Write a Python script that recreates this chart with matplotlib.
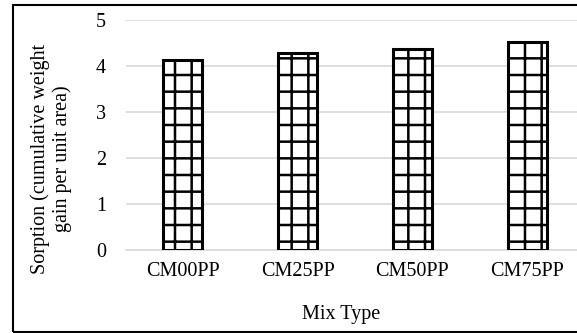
import numpy as np
import matplotlib.pyplot as plt
import matplotlib.patheffects as pe
import matplotlib.hatch as mhatch
from matplotlib.patches import Rectangle

plt.rcParams['font.family'] = ['Liberation Serif', 'DejaVu Serif']
plt.rcParams['hatch.linewidth'] = 1.8

# hatch grid spacing like Excel's large grid pattern
_orig_get_path = mhatch.get_path
mhatch.get_path = lambda pattern, density=6: _orig_get_path(pattern, 6)

# data
mixes = ["CM00PP", "CM25PP", "CM50PP", "CM75PP"]
sorption = [4.12, 4.29, 4.38, 4.52]

W, H = 577, 333
fig = plt.figure(figsize=(W / 100, H / 100), dpi=100)

# outer chart border
fig.patches.append(Rectangle((13 / W, 1 / H), 1.2, 1 - 6 / H, transform=fig.transFigure,
                             fill=False, edgecolor="black", linewidth=1.5))

ax = fig.add_axes([125.5 / W, 1 - 250 / H, 459 / W, 230 / H])
x = np.arange(len(mixes))
bars = ax.bar(x, sorption, width=0.34, color="white", edgecolor="black",
              linewidth=2.2, hatch="+", zorder=3)
for b in bars:
    b.set_path_effects([pe.SimplePatchShadow(offset=(1.5, -1.5), shadow_rgbFace="0.45", alpha=0.5),
                        pe.Normal()])

ax.set_xlim(-0.5, 3.5)
ax.set_ylim(0, 5)
ax.set_yticks(range(6))
ax.set_xticks(x)
ax.set_xticklabels(mixes)
ax.tick_params(axis="both", length=0, labelsize=14.5)
ax.tick_params(axis="x", pad=9)
ax.tick_params(axis="y", pad=14)
ax.grid(axis="y", color="#d9d9d9", linewidth=1.2, zorder=0)
for s in ["top", "right", "left"]:
    ax.spines[s].set_visible(False)
ax.spines["bottom"].set_color("#d9d9d9")
ax.spines["bottom"].set_linewidth(1.2)

fig.text(51 / W, 1 - 159 / H, "Sorption (cumulative weight\ngain per unit area)",
         rotation=90, ha="center", va="center", fontsize=14.5, linespacing=1.2)
fig.text(341 / W, 1 - 315 / H, "Mix Type", ha="center", va="center", fontsize=14.5)

fig.savefig("out.png", dpi=100)
